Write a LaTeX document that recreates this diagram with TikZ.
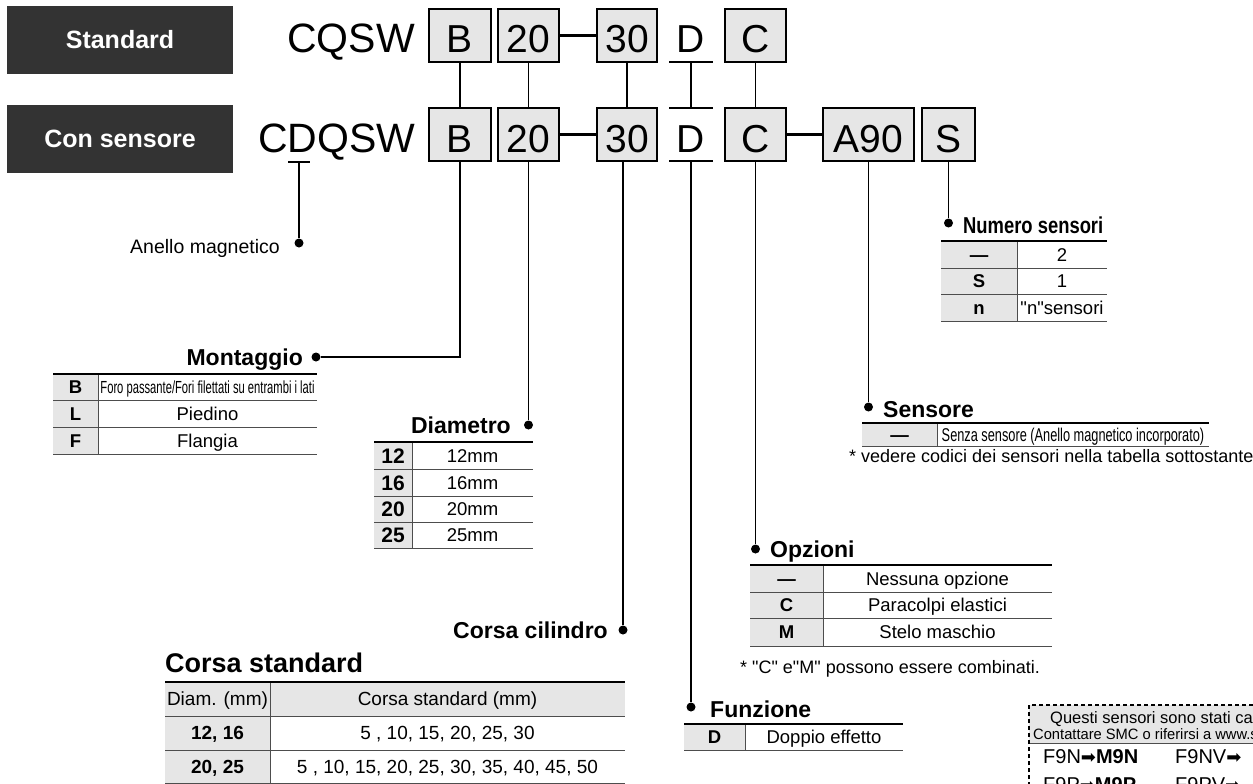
\documentclass[tikz,border=0pt]{standalone}
\usepackage{fontspec}
\setmainfont{Liberation Sans}[Ligatures=TeXOff]
\newfontfamily\dejavu{DejaVu Sans}
\definecolor{hdrgray}{HTML}{333333}
\definecolor{boxgray}{HTML}{E6E6E6}
\definecolor{rulegray}{HTML}{4D4D4D}
\newcommand\fsz[1]{\fontsize{#1}{#1}\selectfont}
\newcommand\cnd[2]{\scalebox{#1}[1]{#2}}
\begin{document}
\begin{tikzpicture}[x=1pt,y=-1pt,
  hdrbox/.style={fill=hdrgray,text=white,font=\bfseries\fsz{25},minimum width=226pt,minimum height=68pt,inner sep=0pt},
  codebox/.style={draw,line width=1.6pt,fill=boxgray,minimum height=53pt,inner sep=0pt,text height=35pt,text depth=0pt,font=\fsz{39}},
  codetxt/.style={anchor=base west,inner sep=0pt,font=\fsz{41}},
  link/.style={line width=1.4pt},
  thicklink/.style={line width=2.6pt},
  dotnode/.style={circle,fill,inner sep=0pt,minimum size=9pt},
  ttl/.style={inner sep=0pt,font=\bfseries\fsz{23}},
  cell/.style={anchor=base,inner sep=0pt,font=\fsz{18.5}},
  bcell/.style={anchor=base,inner sep=0pt,font=\bfseries\fsz{18.5}},
  note/.style={anchor=base west,inner sep=0pt,font=\fsz{18}},
  toprule/.style={line width=2pt},
  rowrule/.style={line width=1pt,rulegray},
  colrule/.style={line width=1pt,rulegray},
  dashbox/.style={line width=2pt,dash pattern=on 4pt off 3pt}
]
\useasboundingbox (0,0) rectangle (1253,784);
\clip (0,0) rectangle (1253,784);

% headers
\node[hdrbox] (std) at (120,40) {Standard};
\node[hdrbox] (sens) at (120,139) {Con sensore};
\node[codetxt] (cq) at (287,53) {CQSW};
\node[codetxt] (cdq) at (258,152) {CDQSW};

% row 1
\node[codebox,minimum width=62pt] (b1) at (460,35.5) {B};
\node[codebox,minimum width=61pt] (d1) at (528.5,35.5) {20};
\node[codebox,minimum width=60pt] (s1) at (627,35.5) {30};
\node[anchor=base,inner sep=0pt,font=\fsz{39}] (f1) at (691,53) {D};
\node[codebox,minimum width=61pt] (o1) at (755.5,35.5) {C};
% row 2
\node[codebox,minimum width=62pt] (b2) at (460,134.5) {B};
\node[codebox,minimum width=61pt] (d2) at (528.5,134.5) {20};
\node[codebox,minimum width=60pt] (s2) at (627,134.5) {30};
\node[anchor=base,inner sep=0pt,font=\fsz{39}] (f2) at (691,152) {D};
\node[codebox,minimum width=61pt] (o2) at (755.5,134.5) {C};
\node[codebox,minimum width=91pt] (a2) at (868.5,134.5) {A90};
\node[codebox,minimum width=53pt] (n2) at (948.5,134.5) {S};

% D rules
\coordinate (dla) at (669,62); \coordinate (dra) at (713,62); \coordinate (dma) at (691,62);
\coordinate (dlb) at (669,108); \coordinate (drb) at (713,108); \coordinate (dmb) at (691,108);
\coordinate (dlc) at (669,161); \coordinate (drc) at (713,161); \coordinate (dmc) at (691,161);
\draw[link] (dla) -- (dra);
\draw[link] (dlb) -- (drb);
\draw[link] (dlc) -- (drc);

% links between rows
\draw[link] (b1.south) -- (b2.north);
\draw[link] (d1.south) -- (d2.north);
\draw[link] (s1.south) -- (s2.north);
\draw[link] (dma) -- (dmb);
\draw[link] (o1.south) -- (o2.north);
\draw[thicklink] (d1.east) -- (s1.west);
\draw[thicklink] (d2.east) -- (s2.west);
\draw[thicklink] (o2.east) -- (a2.west);

% Anello magnetico
\coordinate (tl) at (288,162); \coordinate (tr) at (310,162); \coordinate (tm) at (299,162);
\node[dotnode] (adot) at (299,243) {};
\draw[link] (tl) -- (tr);
\draw[link] (tm) -- (adot);
\node[anchor=base east,inner sep=0pt,font=\fsz{19.5}] (anello) at (280,253) {Anello magnetico};

% dots and leaders
\node[dotnode] (mdot) at (316,357) {};
\draw[link] (b2.south) |- (mdot);
\node[dotnode] (ddot) at (528.5,425) {};
\draw[link] (d2.south) -- (ddot);
\node[dotnode] (cdot) at (623,630) {};
\draw[link] (cdot) -- (cdot |- s2.south);
\node[dotnode] (fdot) at (691,707) {};
\draw[link] (dmc) -- (fdot);
\node[dotnode] (odot) at (755.5,549) {};
\draw[link] (o2.south) -- (odot);
\node[dotnode] (sdot) at (868.5,407) {};
\draw[link] (a2.south) -- (sdot);
\node[dotnode] (ndot) at (948.5,223) {};
\draw[link] (n2.south) -- (ndot);

% Numero sensori
\node[ttl,anchor=base west] (nst) at (963,233) {\cnd{0.8}{Numero sensori}};
\fill[boxgray] (941,241) rectangle (1017,321);
\draw[rowrule] (941,268) -- (1107,268) (941,294) -- (1107,294) (941,321) -- (1107,321);
\draw[colrule] (1017,241) -- (1017,321);
\draw[toprule] (941,241) -- (1107,241);
\node[bcell] (nsk1) at (979,261) {—};
\node[cell] (nsv1) at (1062,261) {2};
\node[bcell] (nsk2) at (979,287.6) {S};
\node[cell] (nsv2) at (1062,287.6) {1};
\node[bcell] (nsk3) at (979,314) {n};
\node[cell] (nsv3) at (1062,314) {"n"sensori};

% Montaggio
\node[ttl,anchor=base east] (mt) at (303,365) {Montaggio};
\fill[boxgray] (53,374) rectangle (98,454);
\draw[rowrule] (53,400.7) -- (317,400.7) (53,427) -- (317,427) (53,454) -- (317,454);
\draw[colrule] (98,374) -- (98,454);
\draw[toprule] (53,374) -- (317,374);
\node[bcell] (mk1) at (75.5,393.7) {B};
\node[cell,font=\fsz{17.5}] (mv1) at (207.5,393.8) {\cnd{0.64}{Foro passante/Fori filettati su entrambi i lati}};
\node[bcell] (mk2) at (75.5,420.6) {L};
\node[cell] (mv2) at (207.5,420.6) {Piedino};
\node[bcell] (mk3) at (75.5,447) {F};
\node[cell] (mv3) at (207.5,447) {Flangia};

% Diametro
\node[ttl,anchor=base east] (dt) at (511,433) {Diametro};
\fill[boxgray] (374,442) rectangle (412,548);
\draw[rowrule] (374,469) -- (533,469) (374,496) -- (533,496) (374,522) -- (533,522) (374,548) -- (533,548);
\draw[colrule] (412,442) -- (412,548);
\draw[toprule] (374,442) -- (533,442);
\node[bcell,font=\bfseries\fsz{21}] (dk1) at (393,463) {12};
\node[cell] (dv1) at (472.5,462.1) {12mm};
\node[bcell,font=\bfseries\fsz{21}] (dk2) at (393,490) {16};
\node[cell] (dv2) at (472.5,489.1) {16mm};
\node[bcell,font=\bfseries\fsz{21}] (dk3) at (393,516.5) {20};
\node[cell] (dv3) at (472.5,515.6) {20mm};
\node[bcell,font=\bfseries\fsz{21}] (dk4) at (393,542.5) {25};
\node[cell] (dv4) at (472.5,541.6) {25mm};

% Sensore
\node[ttl,anchor=base west] (st) at (883,417) {Sensore};
\fill[boxgray] (862,423) rectangle (937,446);
\draw[rowrule] (862,446) -- (1209,446);
\draw[colrule] (937,423) -- (937,446);
\draw[toprule] (862,423) -- (1209,423);
\node[bcell] (sk1) at (899.5,441) {—};
\node[cell,font=\fsz{18.5}] (sv1) at (1073,441) {\cnd{0.69}{Senza sensore (Anello magnetico incorporato)}};
\node[note] (snote) at (849,462) {* vedere codici dei sensori nella tabella sottostante};

% Opzioni
\node[ttl,anchor=base west] (ot) at (770,557) {Opzioni};
\fill[boxgray] (750,565) rectangle (823,646);
\draw[rowrule] (750,592) -- (1052,592) (750,618) -- (1052,618) (750,646) -- (1052,646);
\draw[colrule] (823,565) -- (823,646);
\draw[toprule] (750,565) -- (1052,565);
\node[bcell] (ok1) at (786.5,585.1) {—};
\node[cell] (ov1) at (937.5,585.1) {Nessuna opzione};
\node[bcell] (ok2) at (786.5,611.6) {C};
\node[cell] (ov2) at (937.5,611.6) {Paracolpi elastici};
\node[bcell] (ok3) at (786.5,638.6) {M};
\node[cell] (ov3) at (937.5,638.6) {Stelo maschio};
\node[note] (onote) at (740,673) {* "C" e"M" possono essere combinati.};

% Funzione
\node[ttl,anchor=base west] (ft) at (710,717) {Funzione};
\fill[boxgray] (684,724) rectangle (745,750);
\draw[rowrule] (684,750) -- (903,750);
\draw[colrule] (745,724) -- (745,750);
\draw[toprule] (684,724) -- (903,724);
\node[bcell] (fk1) at (714.5,743.6) {D};
\node[cell] (fv1) at (824,743.6) {Doppio effetto};

% Corsa cilindro / Corsa standard
\node[ttl,anchor=base east] (cct) at (608,638) {Corsa cilindro};
\node[inner sep=0pt,anchor=base west,font=\bfseries\fsz{27}] (cst) at (165,672) {Corsa standard};
\fill[boxgray] (165,682) rectangle (625,716);
\fill[boxgray] (165,716) rectangle (270,784);
\draw[rowrule] (165,716) -- (625,716) (165,750) -- (625,750) (165,783) -- (625,783);
\draw[colrule] (270,682) -- (270,784);
\draw[toprule] (165,682) -- (625,682);
\node[cell,font=\fsz{19}] (ch1) at (217.5,705.8) {Diam. (mm)};
\node[cell,font=\fsz{19}] (ch2) at (447.5,705.8) {Corsa standard (mm)};
\node[bcell,font=\bfseries\fsz{19}] (ck1) at (217.5,739.8) {12, 16};
\node[cell,font=\fsz{19}] (cv1) at (447.5,739.8) {5 , 10, 15, 20, 25, 30};
\node[bcell,font=\bfseries\fsz{19}] (ck2) at (217.5,773.8) {20, 25};
\node[cell,font=\fsz{19}] (cv2) at (447.5,773.8) {5 , 10, 15, 20, 25, 30, 35, 40, 45, 50};

% bottom right box
\fill[boxgray] (1029,705) rectangle (1260,743);
\draw[rowrule] (1029,743) -- (1260,743);
\draw[dashbox] (1029,800) -- (1029,705) -- (1260,705);
\node[anchor=base west,inner sep=0pt,font=\fsz{16.5}] (q1) at (1050,723.5) {Questi sensori sono stati ca};
\node[anchor=base west,inner sep=0pt,font=\fsz{15}] (q2) at (1033,739.5) {\cnd{0.98}{Contattare SMC o riferirsi a www.sm}};
\node[anchor=base west,inner sep=0pt,font=\fsz{20}] (r1a) at (1043,763) {F9N{\dejavu\fsz{18}➡}\textbf{M9N}};
\node[anchor=base west,inner sep=0pt,font=\fsz{20}] (r1b) at (1175,763) {F9NV{\dejavu\fsz{18}➡}};
\node[anchor=base west,inner sep=0pt,font=\fsz{20}] (r2a) at (1043,791) {F9P{\dejavu\fsz{18}➡}\textbf{M9P}};
\node[anchor=base west,inner sep=0pt,font=\fsz{20}] (r2b) at (1175,791) {F9PV{\dejavu\fsz{18}➡}};
\end{tikzpicture}
\end{document}
